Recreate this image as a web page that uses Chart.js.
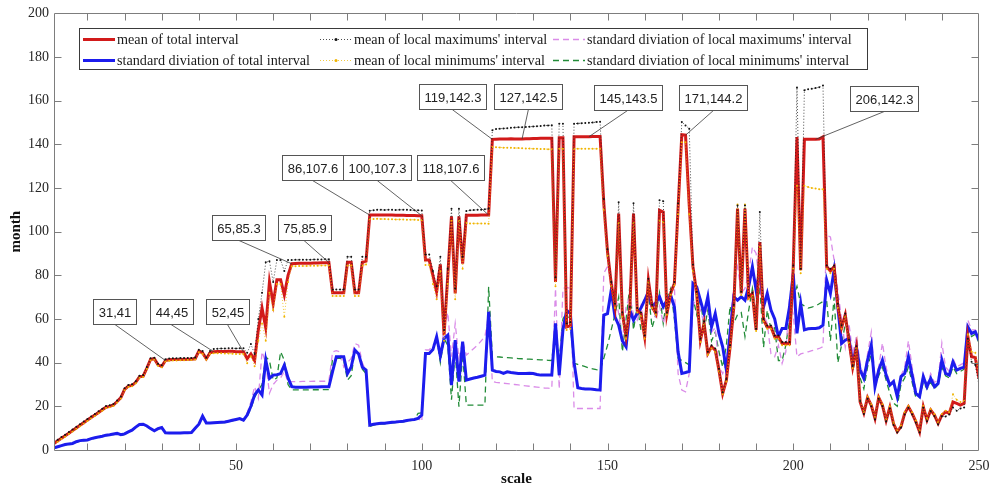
<!DOCTYPE html>
<html>
<head>
<meta charset="utf-8">
<script src="https://cdn.jsdelivr.net/npm/chart.js@4"></script>
<style>
  html, body { margin: 0; padding: 0; background: #fff; }
</style>
</head>
<body>
<canvas id="myChart" width="989" height="488"></canvas>
<script>
// scale index 1..250
const scaleIdx = Array.from({length: 250}, (_, i) => i + 1);

const meanTotal = [
  3.0, 4.2, 5.4, 6.5, 7.7, 8.9, 10.1, 11.3, 12.5, 13.7,
  14.9, 16.0, 17.2, 18.4, 19.6, 20.0, 20.6, 22.2, 24.0, 27.8,
  29.3, 29.6, 31.0, 33.5, 33.8, 37.5, 41.5, 41.8, 39.0, 38.3,
  41.0, 41.3, 41.4, 41.4, 41.5, 41.5, 41.6, 41.6, 41.8, 45.3,
  44.5, 41.8, 44.5, 45.0, 45.1, 45.1, 45.1, 45.2, 45.2, 45.0,
  45.0, 45.0, 41.8, 44.0, 41.0, 55.0, 65.0, 56.0, 77.0, 67.0,
  78.0, 78.0, 71.0, 80.0, 85.3, 85.4, 85.5, 85.5, 85.6, 85.6,
  85.7, 85.7, 85.8, 85.8, 85.9, 72.0, 72.0, 72.0, 72.0, 86.0,
  86.0, 72.0, 72.0, 86.0, 86.5, 107.6, 107.6, 107.7, 107.7, 107.7,
  107.6, 107.6, 107.5, 107.5, 107.5, 107.4, 107.4, 107.4, 107.3, 107.3,
  87.0, 87.0, 80.0, 72.5, 85.0, 52.6, 80.0, 107.0, 71.7, 107.0,
  85.4, 107.5, 107.5, 107.5, 107.5, 107.6, 107.6, 107.6, 142.3, 142.4,
  142.5, 142.5, 142.5, 142.6, 142.5, 142.5, 142.5, 142.6, 142.6, 142.7,
  142.7, 142.8, 142.8, 142.8, 142.8, 77.0, 143.0, 143.0, 56.4, 57.0,
  143.5, 143.5, 143.5, 143.5, 143.5, 143.6, 143.6, 143.6, 113.0, 90.8,
  76.3, 66.0, 108.3, 62.5, 51.9, 64.8, 108.3, 64.0, 62.5, 51.9,
  77.8, 65.6, 62.5, 109.8, 109.0, 62.5, 71.7, 76.3, 111.0, 144.4,
  144.2, 112.0, 84.0, 71.7, 50.3, 58.0, 44.2, 47.3, 45.8, 36.6,
  25.9, 32.0, 47.3, 65.6, 110.6, 71.7, 110.6, 70.0, 71.7, 55.0,
  95.3, 59.5, 56.4, 56.4, 51.9, 51.9, 48.8, 48.8, 48.8, 83.9,
  143.4, 82.4, 142.3, 142.3, 142.3, 142.3, 142.5, 143.5, 84.0, 82.0,
  84.0, 66.0, 56.0, 62.0, 50.0, 38.0, 47.0, 22.0, 17.0, 24.0,
  20.5, 14.5, 24.0, 20.5, 13.5, 19.5, 12.0, 8.4, 10.7, 16.8,
  19.8, 16.8, 13.0, 8.4, 19.8, 13.7, 18.3, 16.0, 12.2, 16.0,
  17.5, 16.8, 22.0, 21.4, 20.6, 21.4, 52.0, 42.7, 42.4, 32.8
];

const stdTotal = [
  1.0, 1.5, 2.0, 2.5, 2.8, 3.0, 3.8, 4.3, 4.5, 4.6,
  5.2, 5.6, 6.0, 6.3, 6.8, 7.0, 7.3, 7.6, 7.0, 7.4,
  8.3, 9.1, 10.5, 11.7, 11.8, 11.0, 9.8, 8.8, 9.8, 10.3,
  7.9, 7.8, 7.8, 7.8, 7.8, 7.9, 7.9, 8.0, 10.0, 11.8,
  15.5, 12.4, 12.4, 12.5, 12.6, 12.7, 12.8, 13.2, 13.6, 14.0,
  14.4, 13.7, 16.0, 20.0, 25.2, 27.5, 25.2, 41.2, 32.8, 34.3,
  34.5, 35.0, 38.9, 33.0, 29.0, 28.8, 28.8, 28.8, 28.8, 28.9,
  28.9, 28.9, 29.0, 29.0, 29.0, 36.0, 42.7, 42.7, 42.7, 35.0,
  38.0, 45.8, 44.0, 38.0, 36.6, 11.4, 11.8, 12.0, 12.2, 12.3,
  12.5, 12.7, 12.8, 13.0, 13.2, 13.5, 13.8, 14.0, 14.5, 16.0,
  44.2, 44.2, 46.0, 51.9, 43.0, 51.1, 52.6, 29.7, 50.3, 31.3,
  49.6, 32.0, 32.5, 33.0, 33.3, 33.8, 34.3, 63.3, 36.6, 36.0,
  35.8, 35.1, 35.8, 35.5, 35.3, 35.1, 35.1, 35.0, 35.1, 35.0,
  34.6, 34.3, 34.3, 34.3, 34.3, 58.0, 34.3, 55.0, 64.0, 62.5,
  40.0, 28.5, 28.2, 28.0, 28.0, 27.8, 27.6, 27.5, 61.8, 62.5,
  73.2, 61.0, 57.2, 50.0, 47.3, 64.0, 59.5, 62.5, 65.0, 68.6,
  72.5, 65.6, 67.4, 70.2, 65.6, 68.6, 70.9, 65.6, 45.0, 35.1,
  35.5, 36.0, 76.3, 74.8, 68.6, 62.5, 70.2, 56.4, 62.5, 53.4,
  47.3, 36.6, 53.4, 70.2, 68.6, 70.2, 68.6, 74.8, 83.9, 73.2,
  82.4, 65.6, 71.7, 64.1, 60.0, 51.9, 55.7, 55.7, 65.6, 80.8,
  53.4, 67.1, 55.0, 55.5, 55.7, 55.7, 56.0, 57.2, 77.8, 71.7,
  82.4, 65.6, 48.8, 50.3, 51.1, 39.7, 47.3, 36.6, 32.8, 41.2,
  48.1, 29.0, 36.6, 41.2, 34.3, 29.7, 31.3, 24.4, 33.6, 35.1,
  42.7, 34.3, 25.9, 24.4, 33.6, 29.0, 32.8, 29.0, 30.5, 41.2,
  35.1, 34.3, 40.4, 36.6, 37.4, 38.0, 56.4, 53.4, 54.2, 50.3
];

const meanLocalMax = [
  3.5, 4.7, 5.9, 7.0, 8.2, 9.4, 10.6, 11.8, 13.0, 14.2,
  15.4, 16.5, 17.7, 18.9, 20.1, 20.5, 21.1, 22.7, 24.5, 28.3,
  29.8, 30.1, 31.5, 34.0, 34.3, 38.0, 42.0, 42.3, 39.5, 38.8,
  41.6, 41.9, 42.0, 42.0, 42.1, 42.1, 42.2, 42.2, 42.4, 45.9,
  45.3, 42.4, 45.4, 46.3, 46.4, 46.5, 46.5, 46.6, 46.6, 46.5,
  46.6, 46.6, 44.5, 48.5, 44.0, 60.0, 72.0, 86.0, 86.5, 77.0,
  87.0, 87.0, 82.0, 87.0, 87.0, 87.1, 87.1, 87.2, 87.2, 87.2,
  87.3, 87.3, 87.3, 87.4, 87.4, 73.5, 73.5, 73.5, 73.5, 88.5,
  88.5, 73.5, 73.5, 88.5, 88.5, 109.6, 109.8, 110.0, 110.0, 109.9,
  110.1, 110.0, 109.9, 110.0, 110.1, 110.0, 109.9, 109.8, 109.8, 109.7,
  89.5, 89.5, 82.0, 75.0, 88.5, 55.0, 83.0, 110.5, 74.0, 110.5,
  88.5, 109.5, 109.8, 109.9, 110.0, 110.1, 110.3, 110.5, 146.5, 147.0,
  147.2, 147.3, 147.4, 147.6, 147.7, 147.8, 147.9, 148.0, 148.1, 148.2,
  148.3, 148.4, 148.6, 148.7, 148.8, 79.0, 149.5, 149.5, 58.0, 58.5,
  149.5, 149.6, 149.7, 149.8, 149.9, 150.0, 150.2, 150.4, 115.0, 92.0,
  77.0, 67.0, 113.5, 63.0, 52.5, 65.5, 113.0, 65.0, 63.0, 52.5,
  78.5, 66.5, 63.0, 114.4, 114.0, 63.0, 72.5, 77.0, 113.0, 150.3,
  148.7, 147.2, 85.0, 72.5, 51.0, 59.0, 45.0, 48.0, 46.5, 37.2,
  26.5, 32.5, 48.0, 66.5, 112.0, 72.5, 112.0, 70.8, 72.2, 55.5,
  109.0, 60.0, 57.0, 57.0, 52.5, 52.5, 49.5, 49.5, 49.5, 84.5,
  166.0, 83.0, 164.8, 165.2, 165.5, 165.8, 166.2, 167.0, 84.5, 83.0,
  84.5, 67.0, 57.0, 62.5, 50.5, 38.5, 47.5, 22.5, 16.5, 23.5,
  20.0, 14.0, 23.5, 20.0, 13.0, 19.0, 11.5, 8.0, 10.2, 16.3,
  19.3, 16.3, 12.5, 8.0, 19.3, 13.2, 17.8, 15.5, 11.7, 15.5,
  15.3, 16.3, 19.5, 18.0, 19.0, 19.5, 51.0, 40.4, 38.9, 29.7
];

const meanLocalMin = [
  2.6, 3.8, 5.0, 6.1, 7.3, 8.5, 9.7, 10.9, 12.1, 13.3,
  14.5, 15.6, 16.8, 18.0, 19.2, 19.6, 20.2, 21.8, 23.6, 27.4,
  28.9, 29.2, 30.6, 33.1, 33.4, 37.1, 41.1, 41.4, 38.6, 37.9,
  40.6, 40.9, 41.0, 41.0, 41.1, 41.1, 41.2, 41.2, 41.4, 44.8,
  44.0, 41.3, 44.0, 44.3, 44.3, 44.3, 44.2, 44.2, 44.1, 44.0,
  44.0, 44.0, 39.7, 43.0, 38.4, 50.0, 58.0, 50.0, 72.0, 64.0,
  76.0, 76.0, 61.0, 77.0, 84.2, 84.2, 84.3, 84.3, 84.3, 84.4,
  84.4, 84.4, 84.5, 84.5, 84.5, 70.5, 70.5, 70.5, 70.5, 84.5,
  84.5, 70.5, 70.5, 84.5, 85.0, 105.8, 105.8, 105.9, 105.8, 105.8,
  105.7, 105.7, 105.6, 105.6, 105.6, 105.5, 105.5, 105.5, 105.4, 105.3,
  84.7, 84.7, 76.0, 69.0, 82.0, 50.0, 76.0, 105.0, 69.0, 105.0,
  83.0, 104.0, 103.8, 103.8, 103.7, 103.7, 103.7, 103.6, 138.8, 138.7,
  138.6, 138.5, 138.5, 138.4, 138.3, 138.3, 138.2, 138.1, 138.1, 138.0,
  138.0, 137.9, 137.9, 137.8, 137.8, 75.0, 138.0, 138.0, 55.0, 55.5,
  138.0, 138.0, 138.0, 138.0, 138.0, 138.0, 138.0, 138.0, 110.0, 89.0,
  75.0, 65.0, 104.0, 61.0, 51.0, 64.0, 104.0, 63.0, 61.5, 51.0,
  77.0, 65.0, 62.0, 105.0, 104.5, 62.0, 71.0, 75.5, 108.0, 141.0,
  141.0, 108.0, 82.0, 71.0, 49.5, 57.5, 43.5, 46.5, 45.0, 36.0,
  25.5, 31.5, 46.5, 65.0, 112.5, 71.0, 112.5, 69.0, 70.5, 54.5,
  93.0, 59.0, 55.5, 55.5, 51.0, 51.0, 48.0, 48.0, 48.0, 83.0,
  121.0, 81.0, 121.0, 120.5, 120.0, 119.8, 119.5, 119.5, 83.0, 81.0,
  83.0, 65.0, 55.5, 61.0, 49.0, 37.5, 46.5, 22.5, 17.5, 24.5,
  21.0, 15.0, 24.5, 21.0, 14.0, 20.0, 12.5, 8.9, 11.2, 17.3,
  20.3, 17.3, 13.5, 8.9, 20.3, 14.2, 18.8, 16.5, 12.7, 16.5,
  18.0, 17.3, 25.5, 23.0, 22.0, 22.5, 53.0, 45.0, 44.5, 34.0
];

const stdLocalMax = [
  1.1, 1.6, 2.1, 2.6, 2.9, 3.1, 3.9, 4.4, 4.6, 4.7,
  5.3, 5.7, 6.1, 6.4, 6.9, 7.1, 7.4, 7.7, 7.1, 7.5,
  8.4, 9.2, 10.6, 11.8, 11.9, 11.1, 9.9, 8.9, 9.9, 10.4,
  8.0, 7.9, 7.9, 7.9, 7.9, 8.0, 8.0, 8.1, 10.1, 11.9,
  15.6, 12.5, 12.5, 12.6, 12.7, 12.8, 12.9, 13.3, 13.7, 14.1,
  14.5, 13.8, 17.0, 22.0, 29.0, 23.6, 45.0, 40.0, 26.0, 30.0,
  32.0, 33.0, 36.0, 31.0, 31.3, 31.3, 31.3, 31.4, 31.4, 31.4,
  31.5, 31.5, 31.5, 31.5, 31.6, 45.0, 45.5, 45.0, 38.0, 40.0,
  42.0, 48.8, 48.0, 40.0, 36.0, 11.6, 12.0, 12.2, 12.4, 12.5,
  12.7, 12.9, 13.0, 13.2, 13.4, 13.7, 14.0, 14.2, 14.7, 13.0,
  45.8, 45.8, 48.0, 50.0, 45.0, 55.0, 63.0, 42.7, 58.0, 42.0,
  50.0, 43.5, 45.0, 46.5, 48.0, 50.0, 52.0, 62.0, 31.3, 31.0,
  30.8, 30.6, 30.4, 30.2, 30.0, 29.8, 29.6, 29.4, 29.2, 29.0,
  28.8, 28.6, 28.4, 28.3, 28.2, 74.0, 28.0, 74.0, 74.5, 74.0,
  19.0, 19.0, 19.0, 19.0, 19.0, 19.0, 19.0, 19.0, 81.0, 84.0,
  78.0, 72.0, 62.5, 50.0, 66.0, 70.0, 62.0, 59.5, 66.0, 56.0,
  76.0, 70.0, 60.0, 66.0, 58.0, 64.0, 72.0, 74.8, 35.0, 27.5,
  26.7, 35.0, 66.0, 70.0, 64.0, 58.0, 68.0, 54.0, 56.0, 38.0,
  35.0, 40.0, 58.0, 75.0, 84.0, 72.0, 74.0, 81.0, 93.0, 90.0,
  75.0, 62.0, 58.0, 44.0, 42.7, 48.0, 39.7, 45.0, 70.0, 62.0,
  42.7, 44.0, 44.5, 45.0, 45.5, 46.0, 46.5, 47.3, 98.4, 97.6,
  87.0, 73.0, 60.0, 47.0, 58.0, 44.0, 52.0, 40.0, 33.0, 44.0,
  54.0, 33.0, 38.0, 49.0, 38.0, 30.0, 32.0, 25.0, 34.0, 38.0,
  50.0, 38.0, 28.0, 26.0, 35.0, 30.0, 35.0, 31.0, 32.0, 49.0,
  38.0, 36.0, 42.0, 38.0, 39.0, 40.0, 59.5, 55.0, 55.0, 51.0
];

const stdLocalMin = [
  0.8, 1.3, 1.8, 2.3, 2.6, 2.8, 3.6, 4.1, 4.3, 4.4,
  5.0, 5.4, 5.8, 6.1, 6.6, 6.8, 7.1, 7.4, 6.6, 7.2,
  8.1, 8.9, 10.3, 11.5, 11.6, 10.8, 9.6, 8.6, 9.6, 10.1,
  7.7, 7.6, 7.6, 7.6, 7.6, 7.7, 7.7, 7.8, 9.8, 11.6,
  15.3, 12.2, 12.2, 12.3, 12.4, 12.5, 12.6, 13.0, 13.4, 13.8,
  14.2, 13.5, 15.5, 19.0, 24.0, 27.5, 30.0, 42.7, 41.0, 32.0,
  33.0, 45.0, 41.0, 30.0, 27.5, 27.5, 27.5, 27.5, 27.5, 27.6,
  27.6, 27.6, 27.6, 27.7, 27.7, 42.0, 42.0, 42.0, 41.0, 32.0,
  34.0, 45.5, 44.0, 37.0, 35.0, 10.8, 11.4, 11.7, 11.9, 12.0,
  12.2, 12.4, 12.5, 12.7, 12.9, 13.2, 13.5, 13.8, 16.8, 17.0,
  44.2, 44.2, 46.0, 52.0, 40.0, 51.0, 48.0, 23.0, 45.0, 19.8,
  44.0, 20.6, 20.6, 20.6, 20.6, 20.6, 20.6, 74.8, 43.0, 42.7,
  42.6, 42.4, 42.3, 42.2, 42.0, 41.9, 41.8, 41.7, 41.6, 41.5,
  41.4, 41.3, 41.2, 41.1, 41.0, 56.0, 41.0, 60.0, 63.0, 57.0,
  39.7, 39.2, 38.7, 38.2, 37.6, 37.2, 36.8, 36.6, 42.0, 48.0,
  55.0, 62.0, 70.0, 45.0, 60.0, 74.8, 55.0, 66.0, 55.0, 60.0,
  72.0, 56.0, 62.0, 72.0, 58.0, 70.0, 74.0, 60.0, 42.0, 41.0,
  40.0, 39.0, 70.0, 62.0, 70.0, 55.0, 64.0, 50.0, 54.0, 45.0,
  38.0, 48.0, 66.0, 58.0, 62.0, 63.0, 52.0, 64.0, 74.0, 62.0,
  75.0, 47.0, 64.0, 55.0, 56.0, 41.0, 41.0, 48.0, 60.0, 70.0,
  75.0, 67.0, 66.0, 65.0, 65.5, 66.0, 67.0, 68.0, 68.0, 50.0,
  70.0, 40.0, 48.0, 58.0, 54.0, 36.0, 44.0, 33.0, 28.0, 38.0,
  44.0, 29.0, 34.0, 38.0, 32.0, 26.0, 21.5, 20.0, 30.0, 33.0,
  38.0, 31.0, 24.0, 24.0, 31.0, 28.0, 31.0, 28.0, 30.0, 38.0,
  34.0, 33.0, 38.0, 35.0, 36.0, 37.0, 55.0, 52.0, 53.0, 49.0
];

const tipX = [31, 44, 52, 65, 75, 86, 100, 118, 119, 127, 145, 171, 206];
const tipY = [41, 45, 45, 85.3, 85.9, 107.6, 107.3, 107.6, 142.3, 142.5, 143.5, 144.2, 142.3];
const tipBoxX = [17.4, 32.5, 47.7, 50.8, 68.3, 70.6, 88, 107.8, 108.2, 128.7, 155.4, 178.5, 224.5];
const tipBoxY = [63.5, 63.5, 63.5, 102, 102, 129.5, 129.5, 129.5, 162, 162, 161.5, 161.5, 161];

const xLabelTicks = [50, 100, 150, 200, 250];
const xTickMarks = [10, 20, 30, 40, 50, 60, 70, 80, 90, 100, 110, 120, 130, 140, 150, 160, 170, 180, 190, 200, 210, 220, 230, 240];
const yTickMarks = [20, 40, 60, 80, 100, 120, 140, 160, 180];

const serif = '"Liberation Serif", "Times New Roman", serif';

const data = {
  labels: scaleIdx,
  datasets: [{
    label: 'mean of total interval',
    data: meanTotal,
    borderColor: 'rgb(210, 26, 26)',
    borderWidth: 3,
    order: 2
  }, {
    label: 'standard diviation of total interval',
    data: stdTotal,
    borderColor: 'rgb(28, 28, 238)',
    borderWidth: 3,
    order: 3
  }, {
    label: "mean of local maximums' interval",
    data: meanLocalMax,
    borderColor: 'rgb(30, 30, 30)',
    borderWidth: 0.8,
    borderDash: [1, 2],
    pointRadius: 1,
    pointBackgroundColor: 'rgb(20, 20, 20)',
    pointBorderWidth: 0,
    order: 0
  }, {
    label: "mean of local minimums' interval",
    data: meanLocalMin,
    borderColor: 'rgb(240, 190, 20)',
    borderWidth: 0.8,
    borderDash: [1, 2],
    pointRadius: 1,
    pointBackgroundColor: 'rgb(240, 180, 0)',
    pointBorderWidth: 0,
    order: 1
  }, {
    label: "standard diviation of local maximums' interval",
    data: stdLocalMax,
    borderColor: 'rgb(218, 140, 232)',
    borderWidth: 1.3,
    borderDash: [6, 4],
    order: 4
  }, {
    label: "standard diviation of local minimums' interval",
    data: stdLocalMin,
    borderColor: 'rgb(34, 140, 56)',
    borderWidth: 1.3,
    borderDash: [6, 4],
    order: 5
  }]
};

// box, inward ticks on all four sides
const framePlugin = {
  id: 'frame',
  afterDatasetsDraw(chart) {
    const {ctx, chartArea: a, scales: {x, y}} = chart;
    ctx.save();
    ctx.strokeStyle = '#7d7d7d';
    ctx.lineWidth = 1;
    ctx.setLineDash([]);
    ctx.beginPath();
    const L = Math.round(a.left) + 0.5, R = Math.round(a.right) - 0.5;
    const T = Math.round(a.top) + 0.5, B = Math.round(a.bottom) + 0.5;
    ctx.rect(L, T, R - L, B - T);
    xTickMarks.forEach(v => {
      const px = Math.round(x.getPixelForValue(v)) + 0.5;
      ctx.moveTo(px, B); ctx.lineTo(px, B - 7);
      ctx.moveTo(px, T); ctx.lineTo(px, T + 7);
    });
    yTickMarks.forEach(v => {
      const py = Math.round(y.getPixelForValue(v)) + 0.5;
      ctx.moveTo(L, py); ctx.lineTo(L + 7, py);
      ctx.moveTo(R, py); ctx.lineTo(R - 7, py);
    });
    ctx.stroke();
    ctx.restore();
  }
};

// data tip boxes with leader lines
const tipPlugin = {
  id: 'tips',
  afterDatasetsDraw(chart) {
    const {ctx, scales: {x, y}} = chart;
    ctx.save();
    ctx.font = '13px "Liberation Sans", Arial, sans-serif';
    ctx.textAlign = 'center';
    ctx.textBaseline = 'middle';
    tipX.forEach((tx, i) => {
      const label = tx + ',' + tipY[i];
      const px = x.getPixelForValue(tx), py = y.getPixelForValue(tipY[i]);
      const cx = x.getPixelForValue(tipBoxX[i]), cy = y.getPixelForValue(tipBoxY[i]);
      const w = Math.round(ctx.measureText(label).width + 10), h = 25;
      const bx = Math.round(cx - w / 2) + 0.5, by = Math.round(cy - h / 2) + 0.5;
      ctx.strokeStyle = '#3a3a3a';
      ctx.lineWidth = 0.8;
      ctx.beginPath();
      ctx.moveTo(cx, by + h);
      ctx.lineTo(px, py);
      ctx.stroke();
      ctx.fillStyle = '#fff';
      ctx.fillRect(bx, by, w, h);
      ctx.strokeStyle = '#555';
      ctx.lineWidth = 1;
      ctx.strokeRect(bx, by, w, h);
      ctx.fillStyle = '#222';
      ctx.fillText(label, bx + w / 2, by + h / 2 + 1);
    });
    ctx.restore();
  }
};

// MATLAB-like legend: three columns, two rows
const legendPlugin = {
  id: 'boxLegend',
  afterDraw(chart) {
    const ctx = chart.ctx;
    const ds = chart.data.datasets;
    const colX = [83, 320, 553];
    const rowY = [39.5, 60.5];
    ctx.save();
    ctx.fillStyle = '#fff';
    ctx.fillRect(79.5, 28.5, 788, 41);
    ctx.strokeStyle = '#3a3a3a';
    ctx.lineWidth = 1;
    ctx.strokeRect(79.5, 28.5, 788, 41);
    ctx.font = '14.2px ' + serif;
    ctx.textBaseline = 'middle';
    ds.forEach((d, i) => {
      const sx = colX[Math.floor(i / 2)], sy = rowY[i % 2];
      ctx.strokeStyle = d.borderColor;
      ctx.lineWidth = d.borderWidth;
      ctx.setLineDash(d.borderDash || []);
      ctx.beginPath();
      ctx.moveTo(sx, sy);
      ctx.lineTo(sx + 32, sy);
      ctx.stroke();
      ctx.setLineDash([]);
      if (d.pointRadius) {
        ctx.fillStyle = d.pointBackgroundColor;
        ctx.beginPath();
        ctx.arc(sx + 16, sy, 1.5, 0, Math.PI * 2);
        ctx.fill();
      }
      ctx.fillStyle = '#1a1a1a';
      ctx.fillText(d.label, sx + 34, sy + 1);
    });
    ctx.restore();
  }
};

new Chart(document.getElementById('myChart'), {
  type: 'line',
  data,
  plugins: [framePlugin, tipPlugin, legendPlugin],
  options: {
    responsive: false,
    animation: false,
    devicePixelRatio: 1,
    layout: { padding: { left: 0, right: 0, top: 13, bottom: 0 } },
    elements: {
      line: { tension: 0, fill: false },
      point: { radius: 0, hoverRadius: 0 }
    },
    plugins: {
      legend: { display: false },
      tooltip: { enabled: false }
    },
    scales: {
      x: {
        type: 'linear',
        min: 1,
        max: 250,
        grid: { display: false, drawTicks: false },
        border: { display: false },
        afterBuildTicks: s => { s.ticks = xLabelTicks.map(v => ({ value: v })); },
        afterFit: s => { s.height = 38; s.paddingLeft = 0; s.paddingRight = 10; },
        ticks: {
          autoSkip: false,
          maxRotation: 0,
          padding: 8,
          color: '#262626',
          font: { family: serif, size: 14 }
        },
        title: {
          display: true,
          text: 'scale',
          color: '#111',
          padding: { top: 0, bottom: 0 },
          font: { family: serif, size: 15, weight: 'bold' }
        }
      },
      y: {
        min: 0,
        max: 200,
        grid: { display: false, drawTicks: false },
        border: { display: false },
        afterFit: s => { s.width = 54; },
        ticks: {
          stepSize: 20,
          padding: 5,
          color: '#262626',
          font: { family: serif, size: 14 }
        },
        title: {
          display: true,
          text: 'month',
          color: '#111',
          padding: { top: 7, bottom: 0 },
          font: { family: serif, size: 15, weight: 'bold' }
        }
      }
    }
  }
});
</script>
</body>
</html>
